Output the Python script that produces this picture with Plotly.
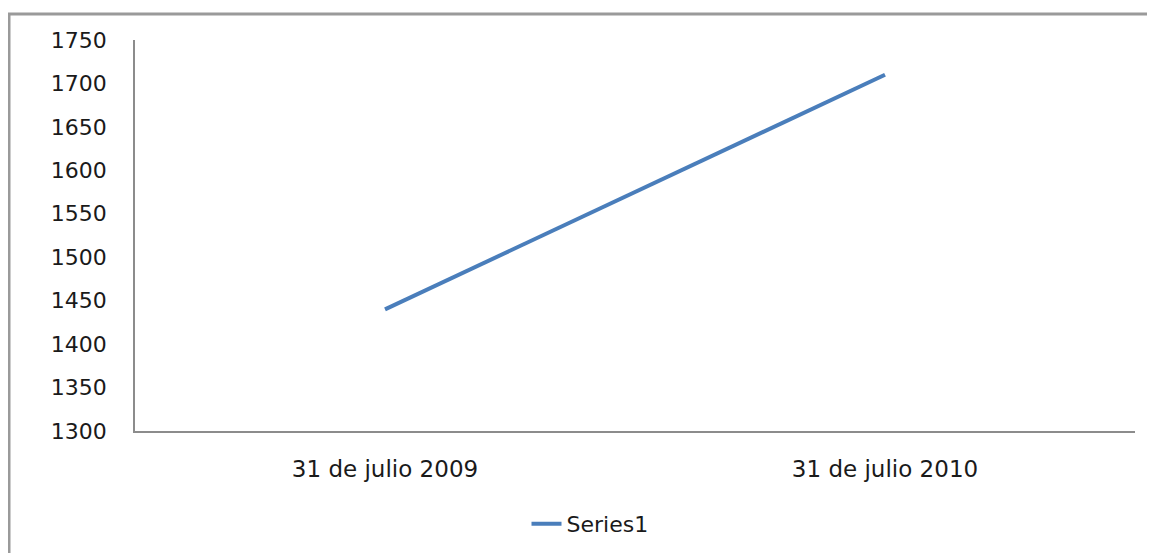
import plotly.graph_objects as go

categories = ["31 de julio 2009", "31 de julio 2010"]
series1 = [1440, 1710]
y_ticks = [1300, 1350, 1400, 1450, 1500, 1550, 1600, 1650, 1700, 1750]

fig = go.Figure()
fig.add_trace(go.Scatter(
    x=categories, y=series1, mode="lines", name="Series1",
    line=dict(color="#4A7EBB", width=4),
))

yfont = dict(family="DejaVu Sans", size=22, color="#1a1a1a")
xfont = dict(family="DejaVu Sans", size=23, color="#1a1a1a")

L, T, W, H = 127, 32, 1000, 391

fig.update_layout(
    width=1155, height=553,
    margin=dict(l=L, r=1155 - L - W, t=T, b=553 - T - H, autoexpand=False),
    paper_bgcolor="white", plot_bgcolor="white",
    font=yfont,
    showlegend=True,
    legend=dict(orientation="h", x=0.455, xanchor="center", y=-0.238, yanchor="middle",
                font=dict(family="DejaVu Sans", size=22, color="#1a1a1a"),
                bgcolor="rgba(0,0,0,0)"),
    xaxis=dict(
        type="category", range=[-0.5, 1.5], showgrid=False, zeroline=False,
        showline=True, linecolor="#8c8c8c", linewidth=1.5,
        ticks="", ticklabelstandoff=17, automargin=False,
        tickfont=xfont,
    ),
    yaxis=dict(
        range=[1300, 1750], tickvals=y_ticks, showgrid=False, zeroline=False,
        showline=True, linecolor="#8c8c8c", linewidth=1.5,
        ticks="", ticklabelstandoff=22, automargin=False,
        tickfont=yfont,
    ),
    shapes=[dict(type="rect", xref="paper", yref="paper",
                 x0=(1 - L) / W, x1=1.1, y0=-0.5, y1=(T + H - 6) / H,
                 line=dict(color="#9a9a9a", width=3), fillcolor="rgba(0,0,0,0)",
                 layer="below")],
)

fig.write_html("out.html")
